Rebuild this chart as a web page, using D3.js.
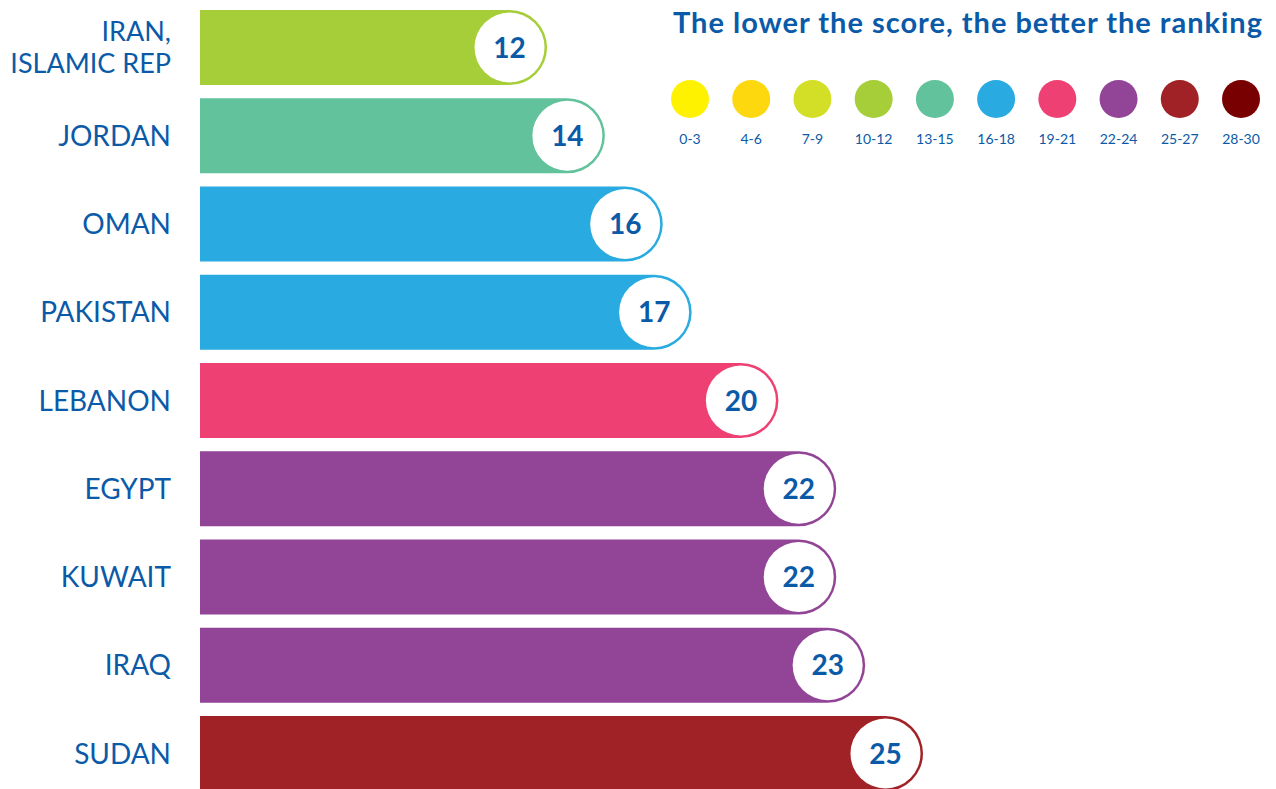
<!DOCTYPE html>
<html>
<head>
<meta charset="utf-8">
<script src="https://cdn.jsdelivr.net/npm/d3@7"></script>
<style>
  body { margin: 0; background: #fff; }
  svg { display: block; font-family: Lato, "Open Sans", sans-serif; }
</style>
</head>
<body>
<svg id="chart" width="1276" height="789"></svg>
<script>
// données
const countries = ["IRAN,\nISLAMIC REP", "JORDAN", "OMAN", "PAKISTAN", "LEBANON", "EGYPT", "KUWAIT", "IRAQ", "SUDAN"];
const scores = [12, 14, 16, 17, 20, 22, 22, 23, 25];
const legendLabels = ["0-3", "4-6", "7-9", "10-12", "13-15", "16-18", "19-21", "22-24", "25-27", "28-30"];
const legendColors = ["#fff200", "#fdd80f", "#d3df26", "#a5ce39", "#61c29c", "#29abe2", "#ef4074", "#924597", "#a02226", "#790000"];
const thresholds = [4, 7, 10, 13, 16, 19, 22, 25, 28];

const textColor = "#0a5aa8";
const svg = d3.select("#chart");

const x = d3.scaleLinear().domain([0, 30]).range([200, 200 + 30 * 28.92]);
const y = d3.scaleBand().domain(countries).range([10, 791]).paddingInner(0.15);
const color = d3.scaleThreshold().domain(thresholds).range(legendColors);

const data = countries.map((c, i) => ({ name: c, value: scores[i] }));
const h = y.bandwidth();
const r = h / 2;

// barres avec bout arrondi
const rows = svg.selectAll("g.row").data(data).enter().append("g").attr("class", "row");

rows.append("path")
  .attr("fill", d => color(d.value))
  .attr("d", d => {
    const x0 = x(0), x1 = x(d.value), y0 = y(d.name);
    return `M${x0},${y0} H${x1 - r} A${r},${r} 0 0 1 ${x1 - r},${y0 + h} H${x0} Z`;
  });

rows.append("circle")
  .attr("cx", d => x(d.value) - r)
  .attr("cy", d => y(d.name) + r)
  .attr("r", r - 2.5)
  .attr("fill", "#fff");

rows.append("text")
  .attr("x", d => x(d.value) - r)
  .attr("y", d => y(d.name) + r)
  .attr("dy", "0.36em")
  .attr("text-anchor", "middle")
  .attr("fill", textColor)
  .style("font-size", "28px")
  .style("font-weight", "bold")
  .text(d => d.value);

// étiquettes des pays (une ligne de texte par ligne)
data.forEach(d => {
  const lines = d.name.split("\n");
  const cy = y(d.name) + r;
  const size = lines.length > 1 ? 27 : 28;
  const lh = 32;
  lines.forEach((l, i) => {
    svg.append("text")
      .attr("x", 171)
      .attr("y", cy + (i - (lines.length - 1) / 2) * lh)
      .attr("dy", "0.36em")
      .attr("text-anchor", "end")
      .attr("fill", textColor)
      .style("font-size", size + "px")
      .text(l);
  });
});

// légende
svg.append("text")
  .attr("x", 673)
  .attr("y", 33)
  .attr("textLength", 589)
  .attr("lengthAdjust", "spacing")
  .attr("fill", textColor)
  .style("font-size", "29px")
  .style("font-weight", "bold")
  .text("The lower the score, the better the ranking");

const lx = d3.scalePoint().domain(legendLabels).range([690, 1241]);

const leg = svg.selectAll("g.leg").data(legendLabels).enter().append("g").attr("class", "leg");
leg.append("circle")
  .attr("cx", d => lx(d))
  .attr("cy", 99)
  .attr("r", 19)
  .attr("fill", (d, i) => legendColors[i]);
leg.append("text")
  .attr("x", d => lx(d))
  .attr("y", 144)
  .attr("text-anchor", "middle")
  .attr("fill", textColor)
  .style("font-size", "14px")
  .text(d => d);
</script>
</body>
</html>
